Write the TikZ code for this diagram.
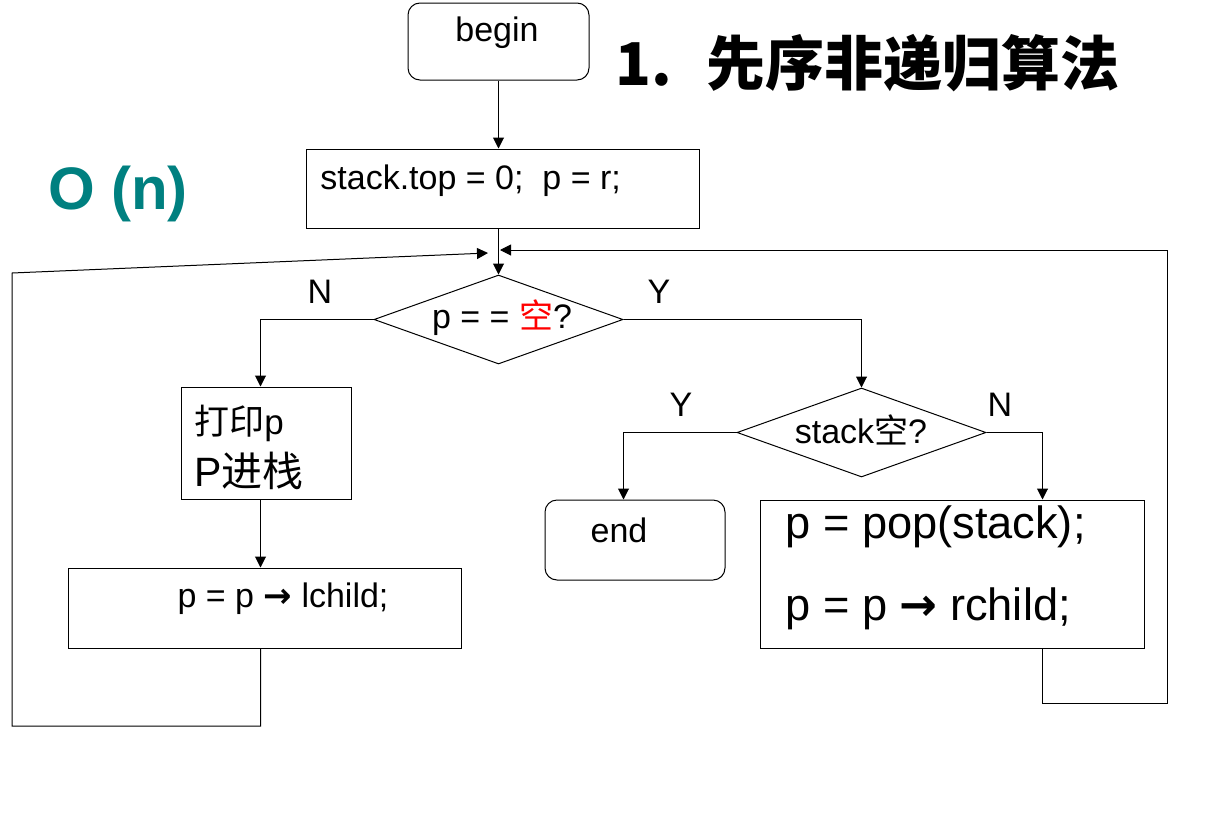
\documentclass[tikz,border=0pt]{standalone}
\usepackage{fontspec}
\setmainfont{Liberation Sans}
\newfontfamily\cjk{Noto Sans CJK SC}
\newfontfamily\dejavu{DejaVu Sans}
\usetikzlibrary{shapes.geometric,arrows.meta}
\definecolor{tealO}{RGB}{0,128,128}
\begin{document}
\begin{tikzpicture}[x=0.5pt,y=-0.5pt,
  boxnode/.style={draw=black,line width=0.5pt,inner sep=0pt},
  roundbox/.style={boxnode,rounded corners=6pt},
  dia/.style={draw=black,diamond,inner sep=0pt,line width=0.5pt},
  txt/.style={inner sep=0pt,font=\fontsize{17}{20}\selectfont},
  bigtxt/.style={inner sep=0pt,font=\fontsize{22.6}{27}\selectfont},
  conn/.style={line width=0.5pt,-{Triangle[length=5.5pt,width=5.5pt]}}]
\useasboundingbox (0,0) rectangle (1205,814);

% boxes
\node[roundbox,minimum width=90.5pt,minimum height=38.5pt] (begin) at (498.5,41.5) {};
\node[boxnode,minimum width=196.5pt,minimum height=39.5pt] (init) at (502.5,188.5) {};
\node[dia,minimum width=124.5pt,minimum height=44.5pt] (d1) at (498.5,319.5) {};
\node[boxnode,minimum width=85pt,minimum height=56pt] (visit) at (266,443) {};
\node[boxnode,minimum width=196.5pt,minimum height=40pt] (left) at (264.5,608) {};
\node[dia,minimum width=124.5pt,minimum height=44.5pt] (d2) at (861.5,432.5) {};
\node[roundbox,minimum width=90pt,minimum height=40pt] (end) at (635,540) {};
\node[boxnode,minimum width=192pt,minimum height=74pt] (pop) at (952,574) {};

% texts
\node[txt] (tbegin) at (497,33) {begin};
\node[txt,anchor=west] (tinit) at (320,181) {stack.top = 0;\ \ p = r;};
\node[txt] (td1) at (502,318) {p = = {\cjk\color{red}空}?};
\node[inner sep=0pt,anchor=west,font=\fontsize{17.5}{21}\selectfont] (tvisit1) at (194,423) {{\cjk 打印}p};
\node[inner sep=0pt,anchor=west,font=\fontsize{20.5}{24}\selectfont] (tvisit2) at (194,471) {P{\cjk 进栈}};
\node[txt] (tleft) at (283,599) {p = p {\dejavu\bfseries →} lchild;};
\node[txt] (td2) at (861,430) {stack{\cjk 空}?};
\node[txt] (tend) at (619,530) {end};
\node[bigtxt,anchor=west] (tpop1) at (785,527) {p = pop(stack);};
\node[bigtxt,anchor=west] (tpop2) at (785,609) {p = p {\dejavu\bfseries →} rchild;};
\node[txt] (n1) at (320,292) {N};
\node[txt] (y1) at (659,292) {Y};
\node[txt] (y2) at (681,405) {Y};
\node[txt] (n2) at (1000,405) {N};
\node[inner sep=0pt,text=tealO,font=\bfseries\fontsize{30}{36}\selectfont] (order) at (118,194) {O (n)};
\node[inner sep=0pt,anchor=west,font=\cjk\bfseries\fontsize{29.5}{34}\selectfont] (title) at (615,63) {1.\hspace{17pt}先序非递归算法};

% connector points
\coordinate (mL) at (488,253);
\coordinate (mR) at (500,250);
\coordinate (lb) at (12,726);
\coordinate (lt) at (12,273);
\coordinate (rb) at (1167,703);
\coordinate (rt) at (1167,250);
\coordinate (visitin) at ([xshift=40pt]visit.north west);
\coordinate (visitout) at ([xshift=40pt]visit.south west);
\coordinate (leftout) at ([xshift=96.5pt]left.south west);
\coordinate (endin) at ([xshift=39.5pt]end.north west);
\coordinate (popin) at ([xshift=141.5pt]pop.north west);
\coordinate (popout) at ([xshift=141.5pt]pop.south west);

% connectors
\draw[conn] (begin.south) -- (begin.south |- init.north);
\draw[conn] (init.south -| d1.north) -- (d1.north);
\draw[conn] (d1.west) -| (visitin);
\draw[conn] (visitout) -- (visitout |- left.north);
\draw[conn] (leftout) |- (lb) -- (lt) -- (mL);
\draw[conn] (d1.east) -| (d2.north);
\draw[conn] (d2.west) -| (endin);
\draw[conn] (d2.east) -| (popin);
\draw[conn] (popout) |- (rb) -- (rt) -- (mR);
\end{tikzpicture}
\end{document}
